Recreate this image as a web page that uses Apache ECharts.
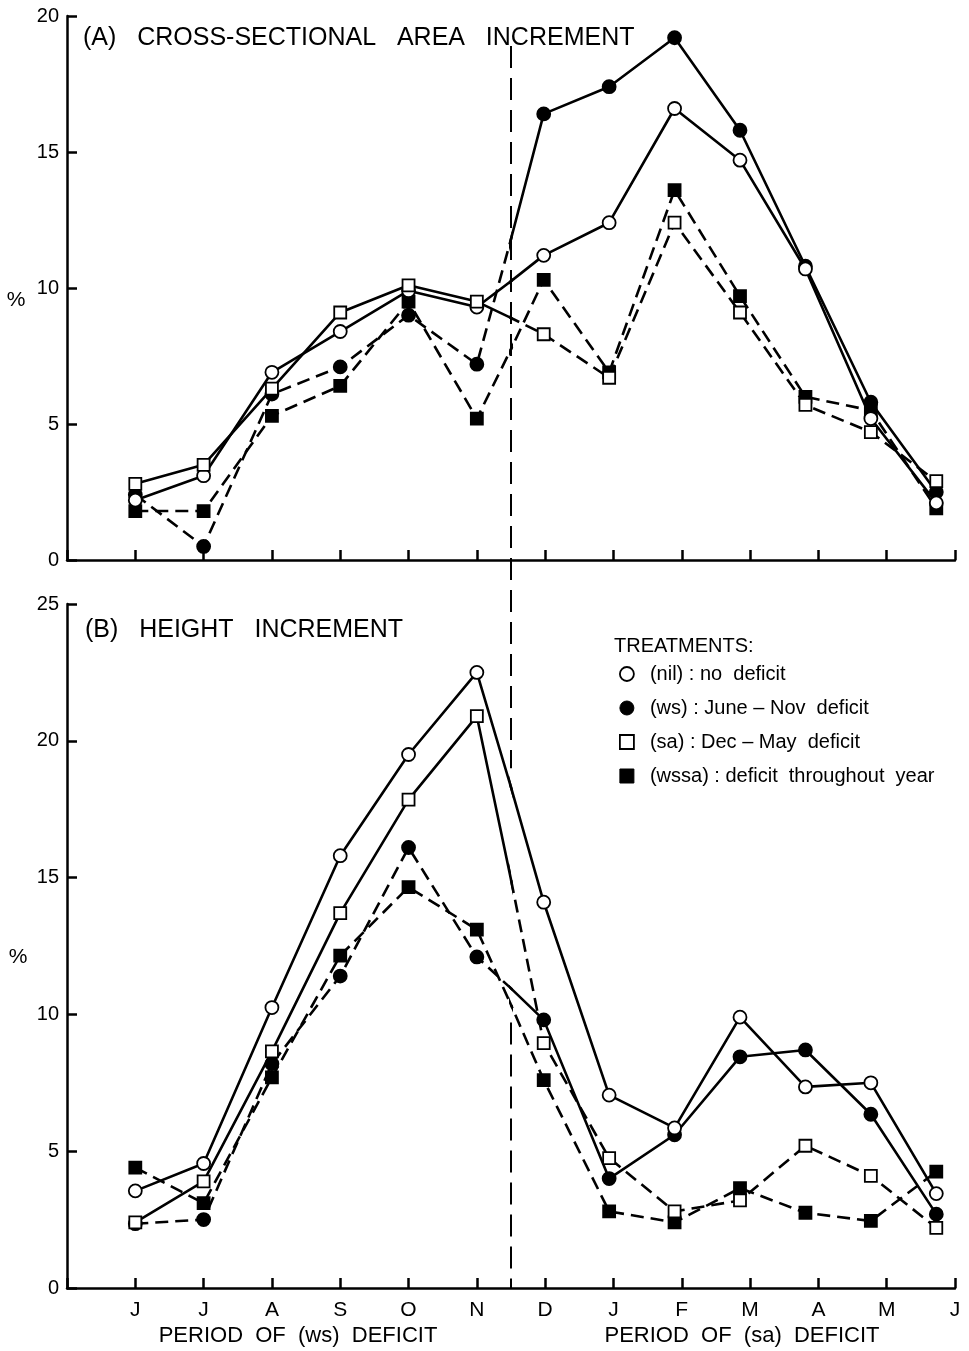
<!DOCTYPE html>
<html>
<head>
<meta charset="utf-8">
<script src="https://cdn.jsdelivr.net/npm/echarts@6/dist/echarts.min.js"></script>
<style>
  html, body { margin: 0; padding: 0; background: #fff; }
  #chart { width: 969px; height: 1351px; }
</style>
</head>
<body>
<div id="chart"></div>
<script>
// month letters along the x axis (June .. June)
const months = ['J', 'J', 'A', 'S', 'O', 'N', 'D', 'J', 'F', 'M', 'A', 'M', 'J'];

// (A) cross-sectional area increment, %
const nilA  = [2.2, 3.1, 6.9, 8.4, 9.9, 9.3, 11.2, 12.4, 16.6, 14.7, 10.7, 5.2, 2.1];
const wsA   = [2.4, 0.5, 6.1, 7.1, 9.0, 7.2, 16.4, 17.4, 19.2, 15.8, 10.8, 5.8, 2.5];
const saA   = [2.8, 3.5, 6.3, 9.1, 10.1, 9.5, 8.3, 6.7, 12.4, 9.1, 5.7, 4.7, 2.9];
const wssaA = [1.8, 1.8, 5.3, 6.4, 9.5, 5.2, 10.3, 6.9, 13.6, 9.7, 6.0, 5.5, 1.9];

// (B) height increment, %
const nilB  = [3.55, 4.55, 10.25, 15.8, 19.5, 22.5, 14.1, 7.05, 5.85, 9.9, 7.35, 7.5, 3.45];
const wsB   = [2.35, 2.5, 8.2, 11.4, 16.1, 12.1, 9.8, 4.0, 5.6, 8.45, 8.7, 6.35, 2.7];
const saB   = [2.4, 3.9, 8.65, 13.7, 17.85, 20.9, 8.95, 4.75, 2.8, 3.2, 5.2, 4.1, 2.2];
const wssaB = [4.4, 3.1, 7.7, 12.15, 14.65, 13.1, 7.6, 2.8, 2.4, 3.65, 2.75, 2.45, 4.25];

const names = {
  nil: '(nil) : no  deficit',
  ws: '(ws) : June – Nov  deficit',
  sa: '(sa) : Dec – May  deficit',
  wssa: '(wssa) : deficit  throughout  year'
};

const FONT = '"Liberation Sans", Arial, Helvetica, sans-serif';
const DASH = [13, 7];

// layout
const L = 67, W = 888, U = W / 13;
const panels = [
  { top: 16, height: 544, max: 20 },
  { top: 604, height: 684, max: 25 }
];

// symbol / line style per treatment; left = Jun-Nov half, right = Dec-Jun half
const styles = {
  nil:  { symbol: 'circle', size: 13, fill: '#fff', left: 'solid', right: 'solid' },
  ws:   { symbol: 'circle', size: 13, fill: '#000', left: DASH, right: 'solid' },
  sa:   { symbol: 'rect', size: 12, fill: '#fff', left: 'solid', right: DASH },
  wssa: { symbol: 'rect', size: 12, fill: '#000', left: DASH, right: DASH }
};

const grid = [], xAxis = [], yAxis = [], series = [];

panels.forEach((p, pi) => {
  const base = pi * 3;
  // frame grid with visible axes
  grid.push({ left: L, top: p.top, width: W, height: p.height });
  // clip grids: left half (0..6.5) and right half (6.5..13.5)
  grid.push({ left: L, top: p.top, width: 6.5 * U, height: p.height });
  grid.push({ left: L + 6.5 * U, top: p.top, width: 7 * U, height: p.height });

  xAxis.push({
    type: 'value', gridIndex: base, min: 0, max: 13, interval: 1,
    axisLine: { show: true, lineStyle: { color: '#000', width: 2.5 } },
    axisTick: { show: true, inside: true, length: 10, lineStyle: { color: '#000', width: 2.5 } },
    splitLine: { show: false },
    axisLabel: {
      show: pi === 1, color: '#000', fontSize: 21, fontFamily: FONT, margin: 12,
      formatter: v => months[v - 1] || ''
    }
  });
  xAxis.push({ type: 'value', gridIndex: base + 1, min: 0, max: 6.5, show: false });
  xAxis.push({ type: 'value', gridIndex: base + 2, min: 6.5, max: 13.5, show: false });

  yAxis.push({
    type: 'value', gridIndex: base, min: 0, max: p.max, interval: 5,
    axisLine: { show: true, lineStyle: { color: '#000', width: 2.5 } },
    axisTick: { show: true, inside: true, length: 10, lineStyle: { color: '#000', width: 2.5 } },
    splitLine: { show: false },
    axisLabel: { color: '#000', fontSize: 20, fontFamily: FONT, margin: 8 }
  });
  yAxis.push({ type: 'value', gridIndex: base + 1, min: 0, max: p.max, show: false });
  yAxis.push({ type: 'value', gridIndex: base + 2, min: 0, max: p.max, show: false });
});

const dataSets = [
  { nil: nilA, ws: wsA, sa: saA, wssa: wssaA },
  { nil: nilB, ws: wsB, sa: saB, wssa: wssaB }
];

dataSets.forEach((set, pi) => {
  Object.keys(styles).forEach(key => {
    const s = styles[key];
    const pts = set[key].map((v, i) => [i + 1, v]);
    ['left', 'right'].forEach((half, hi) => {
      const idx = pi * 3 + 1 + hi;
      series.push({
        name: names[key],
        type: 'line',
        xAxisIndex: idx,
        yAxisIndex: idx,
        data: pts,
        clip: true,
        symbol: s.symbol,
        symbolSize: s.size,
        showAllSymbol: true,
        silent: true,
        animation: false,
        lineStyle: { color: '#000', width: 2.6, type: s[half] },
        itemStyle: { color: s.fill, borderColor: '#000', borderWidth: 1.8 },
        z: key === 'ws' || key === 'wssa' ? 3 : 4
      });
    });
  });
});

const chart = echarts.init(document.getElementById('chart'), null, { renderer: 'canvas' });

const option = {
  backgroundColor: '#fff',
  animation: false,
  grid, xAxis, yAxis, series,
  legend: {
    orient: 'vertical',
    left: 614,
    top: 659,
    itemWidth: 14,
    itemHeight: 14,
    itemGap: 14,
    selectedMode: false,
    textStyle: { color: '#000', fontSize: 20, fontFamily: FONT, lineHeight: 20, padding: [0, 0, 0, 11] },
    data: [
      { name: names.nil, icon: 'circle', itemStyle: { color: '#fff', borderColor: '#000', borderWidth: 1.8 } },
      { name: names.ws, icon: 'circle', itemStyle: { color: '#000', borderColor: '#000', borderWidth: 1 } },
      { name: names.sa, icon: 'rect', itemStyle: { color: '#fff', borderColor: '#000', borderWidth: 1.8 } },
      { name: names.wssa, icon: 'rect', itemStyle: { color: '#000', borderColor: '#000', borderWidth: 1 } }
    ]
  }
};
chart.setOption(option);

// vertical dashed divider between N and D, running through both panels
const topA = chart.convertToPixel({ gridIndex: 0 }, [6.5, 18.9]);
const gapStart = chart.convertToPixel({ gridIndex: 3 }, [6.5, 19.0]);
const gapEnd = chart.convertToPixel({ gridIndex: 3 }, [6.5, 9.7]);
const botB = chart.convertToPixel({ gridIndex: 3 }, [6.5, 0]);
const divStyle = { stroke: '#000', lineWidth: 2, lineDash: [22, 10] };

const txt = (text, x, y, size, align) => ({
  type: 'text', x, y, silent: true,
  style: { text, fill: '#000', font: size + 'px ' + FONT, textAlign: align || 'left', textVerticalAlign: 'middle' }
});

chart.setOption({
  graphic: [
    { type: 'line', silent: true, shape: { x1: topA[0], y1: topA[1], x2: gapStart[0], y2: gapStart[1] }, style: divStyle },
    { type: 'line', silent: true, shape: { x1: gapEnd[0], y1: gapEnd[1], x2: botB[0], y2: botB[1] }, style: divStyle },
    txt('(A)   CROSS-SECTIONAL   AREA   INCREMENT', 83, 38, 25),
    txt('(B)   HEIGHT   INCREMENT', 85, 630, 25),
    txt('TREATMENTS:', 614, 646, 20),
    txt('%', 16, 300, 21, 'center'),
    txt('%', 18, 957, 21, 'center'),
    txt('PERIOD  OF  (ws)  DEFICIT', 298, 1336, 22, 'center'),
    txt('PERIOD  OF  (sa)  DEFICIT', 742, 1336, 22, 'center')
  ]
});
</script>
</body>
</html>
